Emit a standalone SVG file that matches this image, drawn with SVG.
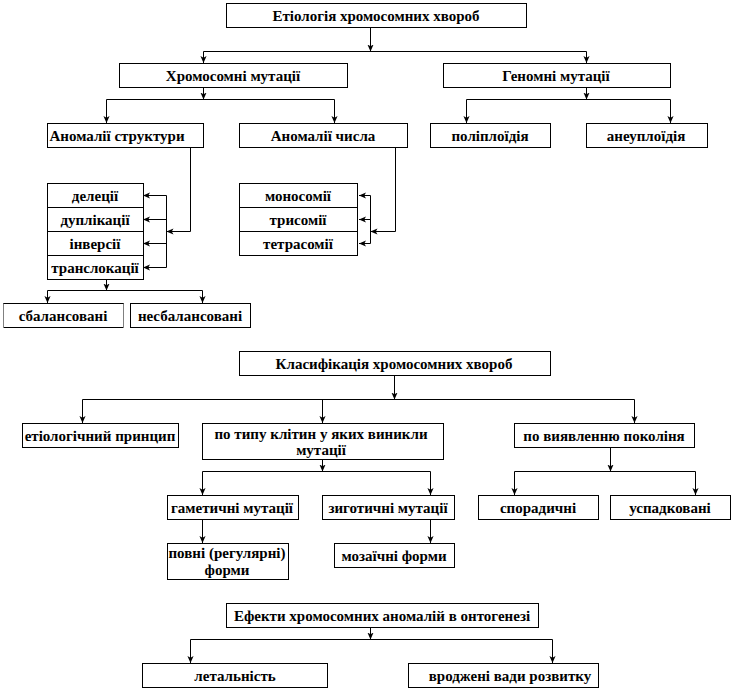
<svg xmlns="http://www.w3.org/2000/svg" width="734" height="690" viewBox="0 0 734 690">
<style>
rect.b{fill:#fff;stroke:#000;stroke-width:1}
line.r{stroke:#000;stroke-width:1}
text{font-family:'Liberation Serif','Times New Roman','DejaVu Serif',serif;font-weight:bold;font-size:15px;fill:#000;text-anchor:middle;dominant-baseline:central}
#connectors path{fill:none;stroke:#000;stroke-width:1}
</style>
<defs>
<marker id="ah" viewBox="0 0 8 8" refX="8" refY="4" markerWidth="7" markerHeight="7" markerUnits="userSpaceOnUse" orient="auto">
<path d="M0,0.5 L8,4 L0,7.5 L2,4 z" fill="#000"/>
</marker>
</defs>
<rect width="734" height="690" fill="#fff"/>

<g id="connectors">
<path d="M370.5,27 V51.5" marker-end="url(#ah)"/>
<path d="M203.5,51.5 H586.5"/>
<path d="M203.5,51.5 V63" marker-end="url(#ah)"/>
<path d="M586.5,51.5 V63" marker-end="url(#ah)"/>

<path d="M203.5,87 V99.5" marker-end="url(#ah)"/>
<path d="M106.5,99.5 H334.5"/>
<path d="M106.5,99.5 V123" marker-end="url(#ah)"/>
<path d="M334.5,99.5 V123" marker-end="url(#ah)"/>

<path d="M586.5,87 V99.5" marker-end="url(#ah)"/>
<path d="M466.5,99.5 H670.5"/>
<path d="M466.5,99.5 V123" marker-end="url(#ah)"/>
<path d="M670.5,99.5 V123" marker-end="url(#ah)"/>

<path d="M190.5,147 V231.5 H166.5" marker-end="url(#ah)"/>
<path d="M166.5,195.5 V267.5"/>
<path d="M166.5,195.5 H143" marker-end="url(#ah)"/>
<path d="M166.5,219.5 H143" marker-end="url(#ah)"/>
<path d="M166.5,243.5 H143" marker-end="url(#ah)"/>
<path d="M166.5,267.5 H143" marker-end="url(#ah)"/>

<path d="M395.5,147 V231.5 H370.5" marker-end="url(#ah)"/>
<path d="M370.5,195.5 V243.5"/>
<path d="M370.5,195.5 H359" marker-end="url(#ah)"/>
<path d="M370.5,219.5 H359" marker-end="url(#ah)"/>
<path d="M370.5,243.5 H359" marker-end="url(#ah)"/>

<path d="M106.5,279 V290.5" marker-end="url(#ah)"/>
<path d="M47.5,290.5 H202.5"/>
<path d="M47.5,290.5 V303" marker-end="url(#ah)"/>
<path d="M202.5,290.5 V303" marker-end="url(#ah)"/>

<path d="M394.5,375 V399.5" marker-end="url(#ah)"/>
<path d="M82.5,399.5 H634.5"/>
<path d="M82.5,399.5 V423" marker-end="url(#ah)"/>
<path d="M322.5,399.5 V423" marker-end="url(#ah)"/>
<path d="M634.5,399.5 V423" marker-end="url(#ah)"/>

<path d="M322.5,459 V471.5" marker-end="url(#ah)"/>
<path d="M202.5,471.5 H430.5"/>
<path d="M202.5,471.5 V495" marker-end="url(#ah)"/>
<path d="M430.5,471.5 V495" marker-end="url(#ah)"/>
<path d="M202.5,519 V543" marker-end="url(#ah)"/>
<path d="M430.5,519 V543" marker-end="url(#ah)"/>

<path d="M610.5,447 V471.5" marker-end="url(#ah)"/>
<path d="M514.5,471.5 H695.5"/>
<path d="M514.5,471.5 V495" marker-end="url(#ah)"/>
<path d="M695.5,471.5 V495" marker-end="url(#ah)"/>

<path d="M370.5,627 V639.5" marker-end="url(#ah)"/>
<path d="M190.5,639.5 H552.5"/>
<path d="M190.5,639.5 V663" marker-end="url(#ah)"/>
<path d="M552.5,639.5 V663" marker-end="url(#ah)"/>
</g>

<g id="n-etiology"><rect class="b" x="226.5" y="3.5" width="300" height="24"/><text x="376" y="15.5">Етіологія  хромосомних хвороб</text></g>
<g id="n-chrom"><rect class="b" x="119.5" y="63.5" width="228" height="24"/><text x="233" y="75.5">Хромосомні мутації</text></g>
<g id="n-genom"><rect class="b" x="443.5" y="63.5" width="227" height="24"/><text x="556" y="75.5">Геномні мутації</text></g>
<g id="n-anom-str"><rect class="b" x="47.5" y="123.5" width="156" height="24"/><text x="117" y="135.5">Аномалії  структури</text></g>
<g id="n-anom-num"><rect class="b" x="239.5" y="123.5" width="168" height="24"/><text x="323" y="135.5">Аномалії  числа</text></g>
<g id="n-poly"><rect class="b" x="430.5" y="123.5" width="120" height="24"/><text x="490" y="135.5">поліплоїдія</text></g>
<g id="n-aneu"><rect class="b" x="586.5" y="123.5" width="121" height="24"/><text x="646" y="135.5">анеуплоїдія</text></g>

<g id="n-struct-list">
<rect class="b" x="47.5" y="183.5" width="96" height="96"/>
<line class="r" x1="47.5" y1="207.5" x2="143.5" y2="207.5"/>
<line class="r" x1="47.5" y1="231.5" x2="143.5" y2="231.5"/>
<line class="r" x1="47.5" y1="255.5" x2="143.5" y2="255.5"/>
<text x="95" y="195.5">делеції</text>
<text x="95" y="219.5">дуплікації</text>
<text x="95" y="243.5">інверсії</text>
<text x="95" y="267.5">транслокації</text>
</g>
<g id="n-num-list">
<rect class="b" x="239.5" y="183.5" width="118" height="72"/>
<line class="r" x1="239.5" y1="207.5" x2="357.5" y2="207.5"/>
<line class="r" x1="239.5" y1="231.5" x2="357.5" y2="231.5"/>
<text x="298" y="195.5">моносомії</text>
<text x="298" y="219.5">трисомії</text>
<text x="298" y="243.5">тетрасомії</text>
</g>
<g id="n-sbal">
<rect x="3.5" y="303.5" width="120" height="24" fill="#fff"/>
<line class="r" x1="3.5" y1="303.5" x2="123.5" y2="303.5"/>
<line class="r" x1="3.5" y1="327.5" x2="123.5" y2="327.5"/>
<line x1="3.5" y1="303.5" x2="3.5" y2="327.5" stroke="#000" stroke-dasharray="1,1"/>
<line x1="123.5" y1="303.5" x2="123.5" y2="327.5" stroke="#000" stroke-dasharray="1,1"/>
<text x="63" y="315.5">сбалансовані</text>
</g>
<g id="n-nesbal"><rect class="b" x="130.5" y="303.5" width="120" height="24"/><text x="190" y="315.5">несбалансовані</text></g>

<g id="n-klass"><rect class="b" x="239.5" y="351.5" width="311" height="24"/><text x="394" y="363.5">Класифікація  хромосомних хвороб</text></g>
<g id="n-etiol-pr"><rect class="b" x="22.5" y="423.5" width="156" height="24"/><text x="100" y="435.5">етіологічний  принцип</text></g>
<g id="n-po-typu"><rect class="b" x="202.5" y="423.5" width="241" height="36"/><text x="321" y="434">по типу клітин  у  яких  виникли</text><text x="321" y="450">мутації</text></g>
<g id="n-po-vyavl"><rect class="b" x="514.5" y="423.5" width="180" height="24"/><text x="604" y="435.5">по виявленню поколіня</text></g>
<g id="n-gamet"><rect class="b" x="167.5" y="495.5" width="131" height="24"/><text x="232" y="507.5">гаметичні мутації</text></g>
<g id="n-zygot"><rect class="b" x="322.5" y="495.5" width="132" height="24"/><text x="388" y="507.5">зиготичні мутації</text></g>
<g id="n-povni"><rect class="b" x="167.5" y="543.5" width="121" height="36"/><text x="227" y="553">повні (регулярні)</text><text x="227" y="570">форми</text></g>
<g id="n-mozaic"><rect class="b" x="334.5" y="543.5" width="120" height="24"/><text x="394" y="555.5">мозаїчні  форми</text></g>
<g id="n-sporad"><rect class="b" x="478.5" y="495.5" width="120" height="24"/><text x="538" y="507.5">спорадичні</text></g>
<g id="n-uspad"><rect class="b" x="610.5" y="495.5" width="120" height="24"/><text x="670" y="507.5">успадковані</text></g>

<g id="n-efekty"><rect class="b" x="226.5" y="603.5" width="312" height="24"/><text x="382" y="615.5">Ефекти  хромосомних аномалій в онтогенезі</text></g>
<g id="n-letal"><rect class="b" x="142.5" y="663.5" width="185" height="24"/><text x="235" y="675.5">летальність</text></g>
<g id="n-vrodzh"><rect class="b" x="408.5" y="663.5" width="190" height="24"/><text x="510" y="675.5">вроджені вади розвитку</text></g>
</svg>
